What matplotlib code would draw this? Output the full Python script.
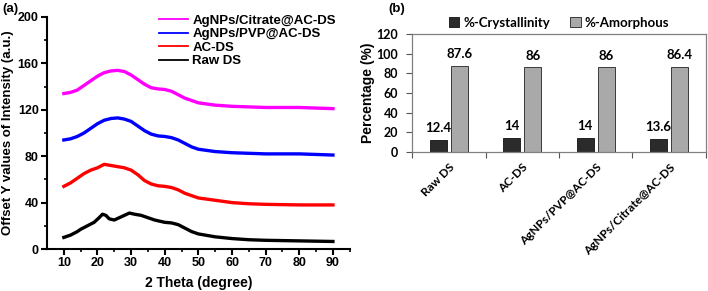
"""
XRD patterns (a) and crystallinity/amorphous percentages (b)
"""
import matplotlib.pyplot as plt
import numpy as np

# ── (a) XRD traces, offset ───────────────────────────────────────────────────
theta_raw = [10, 12, 14, 15, 17, 19, 20.5, 21.5, 22.5, 23.5, 25, 26.5, 28,
             29.5, 31, 33, 35, 37, 40, 42, 44, 46, 48, 50, 52, 55, 60, 65,
             70, 80, 90]
raw_ds = [10, 12, 15, 17, 20, 23, 27, 30, 29, 26, 25, 27, 29, 31, 30, 29,
          27, 25, 23, 22.5, 21, 18, 15, 13, 12, 10.5, 9, 8, 7.5, 7, 6.5]

theta_ac = [10, 12, 14, 16, 18, 20, 22, 24, 26, 28, 30, 32, 34, 36, 38, 40,
            42, 44, 46, 48, 50, 55, 60, 65, 70, 80, 90]
ac_ds = [54, 57, 61, 65, 68, 70, 73, 72, 71, 70, 68, 64, 59, 56, 54.5, 54,
         53, 51, 48, 46, 44, 42, 40, 39, 38.5, 38, 38]

theta_ag = [10, 12, 14, 16, 18, 20, 22, 24, 26, 28, 30, 32, 34, 36, 38, 40,
            42, 44, 46, 48, 50, 55, 60, 70, 80, 90]
pvp_ac_ds = [94, 95, 97, 100, 104, 108, 111, 112.5, 113, 112, 110, 106, 102,
             99, 97.5, 97, 96, 94, 91, 88, 86, 84, 83, 82, 82, 81]
citrate_ac_ds = [134, 135, 137, 141, 145, 149, 152, 153.5, 154, 153, 150,
                 146, 142, 139, 138, 137.5, 136, 133, 130, 128, 126, 124,
                 123, 122, 122, 121]

# ── (b) percentages ──────────────────────────────────────────────────────────
samples = ["Raw DS", "AC-DS", "AgNPs/PVP@AC-DS", "AgNPs/Citrate@AC-DS"]
crystallinity = [12.4, 14, 14, 13.6]
amorphous = [87.6, 86, 86, 86.4]

plt.rcParams["font.family"] = ["Liberation Sans", "DejaVu Sans"]
plt.rcParams["font.weight"] = "bold"
CAL = ["Lato", "DejaVu Sans"]

fig = plt.figure(figsize=(7.08, 2.91), dpi=100)

# ── panel (a) ────────────────────────────────────────────────────────────────
ax = fig.add_axes([0.0664, 0.1443, 0.4276, 0.7973])
ax.plot(theta_raw, raw_ds, color="black", lw=2.4, label="Raw DS")
ax.plot(theta_ac, ac_ds, color="#ff0000", lw=2.4, label="AC-DS")
ax.plot(theta_ag, pvp_ac_ds, color="#0000ff", lw=2.4, label="AgNPs/PVP@AC-DS")
ax.plot(theta_ag, citrate_ac_ds, color="#ff00ff", lw=2.4,
        label="AgNPs/Citrate@AC-DS")
ax.set_xlim(5, 95)
ax.set_ylim(0, 200)
ax.set_xticks(range(10, 91, 10))
ax.set_xticks(range(15, 96, 10), minor=True)
ax.set_yticks(range(0, 201, 40))
ax.set_yticks(range(20, 201, 40), minor=True)
for side in ("top", "right"):
    ax.spines[side].set_visible(False)
for side in ("left", "bottom"):
    ax.spines[side].set_linewidth(1.5)
ax.tick_params(which="major", length=4, width=1.5, labelsize=9, pad=2)
ax.tick_params(which="minor", length=2.5, width=1.2)
ax.set_xlabel("2 Theta (degree)", fontsize=10, fontweight="bold", labelpad=5)
ax.set_ylabel("Offset Y values of Intensity (a.u.)", fontsize=9.5,
              fontweight="bold", va="center")
ax.yaxis.set_label_coords(-0.128, 0.5)
h, l = ax.get_legend_handles_labels()
ax.legend(h[::-1], l[::-1], loc="upper right", bbox_to_anchor=(0.98, 1.045),
          frameon=False, handlelength=2.2, handletextpad=0.35,
          labelspacing=0.1, borderaxespad=0.2,
          prop={"weight": "bold", "size": 9.5})
for line in ax.get_legend().get_lines():
    line.set_linewidth(1.3)
fig.text(0.004, 0.99, "(a)", fontsize=9.5, fontweight="bold", va="top")

# ── panel (b) ────────────────────────────────────────────────────────────────
bx = fig.add_axes([0.582, 0.478, 0.415, 0.405])
x = np.arange(len(samples))
off, w = 0.143, 0.23
b1 = bx.bar(x - off, crystallinity, w, color="#2b2b2b", edgecolor="#111111",
            linewidth=0.6, label="%-Crystallinity")
b2 = bx.bar(x + off, amorphous, w, color="#a9a9a9", edgecolor="#222222",
            linewidth=0.6, label="%-Amorphous")
for bars, vals in ((b1, crystallinity), (b2, amorphous)):
    for bar, v in zip(bars, vals):
        bx.text(bar.get_x() + bar.get_width() / 2, v + 6, f"{v:g}",
                ha="center", va="bottom", fontsize=9.5, fontweight="bold",
                family=CAL)
bx.set_xlim(-0.5, len(samples) - 0.5)
bx.set_ylim(0, 120)
bx.set_yticks(range(0, 121, 20))
bx.set_xticks(np.arange(-0.5, len(samples), 1.0))
bx.set_xticklabels([])
bx.set_xticks(x, minor=True)
bx.set_xticklabels(samples, minor=True, rotation=45, ha="right",
                   rotation_mode="anchor", fontsize=8.5, fontweight="bold",
                   family=CAL)
bx.tick_params(axis="x", which="minor", length=0, pad=7)
bx.tick_params(axis="x", which="major", length=4, width=0.8, color="#555555")
bx.tick_params(axis="y", length=4, width=0.8, color="#555555", labelsize=9,
               pad=6)
for lab in bx.get_yticklabels():
    lab.set_family(CAL)
    lab.set_fontweight("bold")
for sp in bx.spines.values():
    sp.set_color("#808080")
    sp.set_linewidth(0.9)
bx.set_ylabel("Percentage (%)", fontsize=10, fontweight="bold", va="center")
bx.yaxis.set_label_coords(-0.15, 0.5)
bx.legend(loc="lower center", bbox_to_anchor=(0.5, 0.99), ncol=2,
          frameon=False, handlelength=0.8, handleheight=0.8,
          handletextpad=0.3, columnspacing=1.5, borderaxespad=0.1,
          prop={"weight": "bold", "size": 9.5, "family": CAL})
fig.text(0.548, 0.99, "(b)", fontsize=9.5, fontweight="bold", va="top")

fig.savefig("out.png", dpi=100)
